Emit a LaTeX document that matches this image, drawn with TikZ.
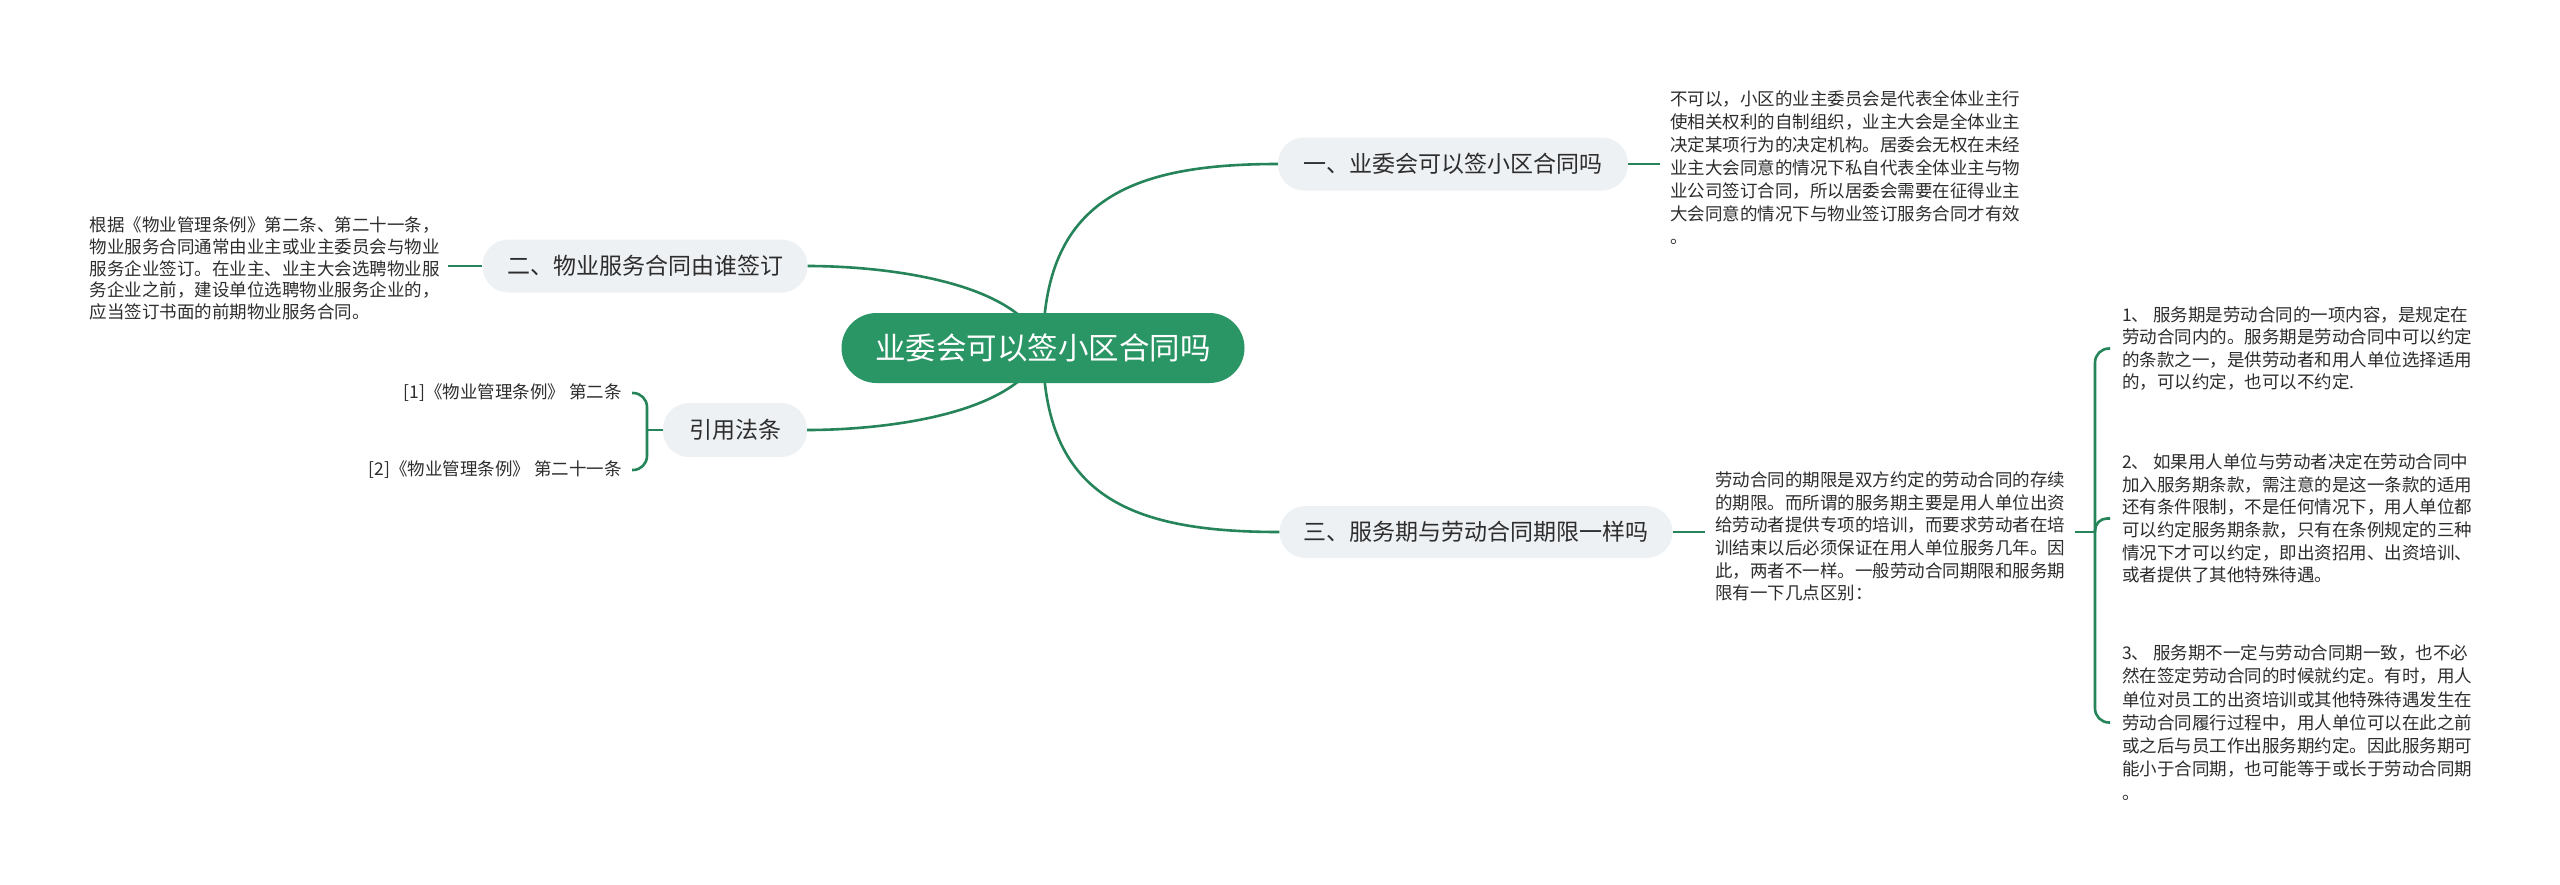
\documentclass[tikz,border=0pt]{standalone}
\usepackage{fontspec}
\setmainfont{Noto Sans CJK SC}
\definecolor{lineg}{RGB}{38,132,90}
\definecolor{mainfill}{RGB}{43,150,101}
\definecolor{subfill}{RGB}{238,241,244}
\definecolor{txt}{RGB}{45,45,45}
\begin{document}
\begin{tikzpicture}[x=1pt,y=-1pt,
  conn/.style={draw=lineg,line width=2.6pt},
  mainnode/.style={fill=mainfill,text=white,rounded corners=35pt,minimum height=70pt,minimum width=403pt,inner sep=0pt,font=\fontsize{30.5}{34}\selectfont},
  subnode/.style={fill=subfill,text=txt,rounded corners=26pt,minimum height=53pt,inner sep=0pt,font=\fontsize{23}{27}\selectfont},
  leaf/.style={text=txt,align=left,inner ysep=0pt,font=\fontsize{17.5}{23}\selectfont},
  refleaf/.style={text=txt,align=right,inner ysep=0pt,inner xsep=10pt,font=\fontsize{17.5}{23}\selectfont}
]
\useasboundingbox[fill=white] (0,0) rectangle (2560,884);

% connectors from the centre
\coordinate (cc) at (1043,348);
\node[subnode,minimum width=350pt] (b1) at (1453,164) {一、业委会可以签小区合同吗};
\node[subnode,minimum width=325pt] (b2) at (645,266) {二、物业服务合同由谁签订};
\node[subnode,minimum width=393pt,minimum height=52pt] (b3) at (1476,532) {三、服务期与劳动合同期限一样吗};
\node[subnode,minimum width=144pt,minimum height=54pt] (rf) at (735,430) {引用法条};

\draw[conn] (cc) .. controls (1043,200) and (1130,164) .. (b1.west);
\draw[conn] (cc) .. controls (1043,496) and (1130,532) .. (b3.west);
\draw[conn] (cc) .. controls (1020,280) and (880,266) .. (b2.east);
\draw[conn] (cc) .. controls (1020,416) and (880,430) .. (rf.east);

\node[mainnode] (c) at (1043,348) {业委会可以签小区合同吗};

% branch 1 leaf
\node[leaf,anchor=west,inner xsep=10pt] (l1) at (1660,167.5) {不可以，小区的业主委员会是代表全体业主行\\使相关权利的自制组织，业主大会是全体业主\\决定某项行为的决定机构。居委会无权在未经\\业主大会同意的情况下私自代表全体业主与物\\业公司签订合同，所以居委会需要在征得业主\\大会同意的情况下与物业签订服务合同才有效\\。};
\draw[conn] (b1.east) -- (b1.east -| l1.west);

% branch 2 leaf
\node[leaf,anchor=east,inner xsep=8pt,font=\fontsize{17.5}{21.7}\selectfont] (l2) at (448,268.5) {根据《物业管理条例》第二条、第二十一条，\\物业服务合同通常由业主或业主委员会与物业\\服务企业签订。在业主、业主大会选聘物业服\\务企业之前，建设单位选聘物业服务企业的，\\应当签订书面的前期物业服务合同。};
\draw[conn] (b2.west) -- (b2.west -| l2.east);

% branch 3 leaf
\node[leaf,anchor=west,inner xsep=10pt,font=\fontsize{17.5}{22.6}\selectfont] (l3) at (1705,536.5) {劳动合同的期限是双方约定的劳动合同的存续\\的期限。而所谓的服务期主要是用人单位出资\\给劳动者提供专项的培训，而要求劳动者在培\\训结束以后必须保证在用人单位服务几年。因\\此，两者不一样。一般劳动合同期限和服务期\\限有一下几点区别：};
\draw[conn] (b3.east) -- (b3.east -| l3.west);

% items
\coordinate (j3) at (2095,532);
\node[leaf,anchor=west,inner xsep=12pt,font=\fontsize{17.5}{22.4}\selectfont] (i1) at (2110,348.5) {1、 服务期是劳动合同的一项内容，是规定在\\劳动合同内的。服务期是劳动合同中可以约定\\的条款之一，是供劳动者和用人单位选择适用\\的，可以约定，也可以不约定.};
\node[leaf,anchor=west,inner xsep=12pt,font=\fontsize{17.5}{22.6}\selectfont] (i2) at (2110,518.5) {2、 如果用人单位与劳动者决定在劳动合同中\\加入服务期条款，需注意的是这一条款的适用\\还有条件限制，不是任何情况下，用人单位都\\可以约定服务期条款，只有在条例规定的三种\\情况下才可以约定，即出资招用、出资培训、\\或者提供了其他特殊待遇。};
\node[leaf,anchor=west,inner xsep=12pt,font=\fontsize{17.5}{23.3}\selectfont] (i3) at (2110,722.5) {3、 服务期不一定与劳动合同期一致，也不必\\然在签定劳动合同的时候就约定。有时，用人\\单位对员工的出资培训或其他特殊待遇发生在\\劳动合同履行过程中，用人单位可以在此之前\\或之后与员工作出服务期约定。因此服务期可\\能小于合同期，也可能等于或长于劳动合同期\\。};
\draw[conn] (l3.east |- j3) -- (j3);
\draw[conn,rounded corners=14pt] (j3) |- (i1.west);
\draw[conn,rounded corners=12pt] (j3) |- (i2.west);
\draw[conn,rounded corners=14pt] (j3) |- (i3.west);

% references
\coordinate (jr) at (647,430);
\node[refleaf,anchor=east] (r1) at (632,393) {[1]《物业管理条例》 第二条};
\node[refleaf,anchor=east] (r2) at (632,470) {[2]《物业管理条例》 第二十一条};
\draw[conn] (rf.west) -- (jr);
\draw[conn,rounded corners=14pt] (jr) |- (r1.east);
\draw[conn,rounded corners=14pt] (jr) |- (r2.east);
\end{tikzpicture}
\end{document}
